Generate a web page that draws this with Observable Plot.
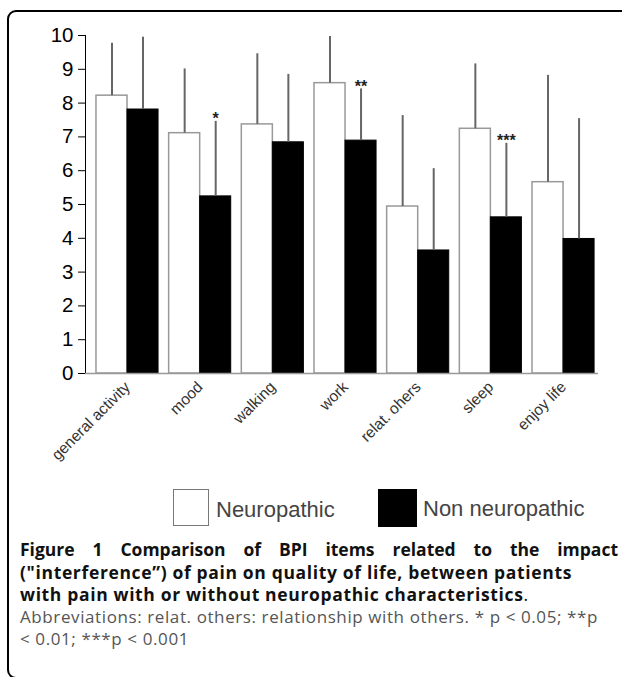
<!DOCTYPE html>
<html>
<head>
<meta charset="utf-8">
<script src="https://cdn.jsdelivr.net/npm/d3@7"></script>
<script src="https://cdn.jsdelivr.net/npm/@observablehq/plot@0.6"></script>
<style>
  html, body { margin: 0; padding: 0; background: #fff; }
  body { width: 622px; height: 677px; position: relative; overflow: hidden; }
  #frame { position: absolute; left: 7px; top: 10px; width: 700px; height: 669px;
           border: 2.5px solid #000; border-radius: 9px; box-sizing: border-box; }
  #chart { position: absolute; left: 0; top: 0; }
  #chart svg g[aria-label="y-axis"] line,
  #chart svg g[aria-label="y-axis"] path { stroke: #999; stroke-width: 1.3px; }
  #chart svg g[aria-label="y-axis"] text { fill: #333; }
  .leg-box { position: absolute; box-sizing: border-box; }
  .leg-txt { position: absolute; font-family: "Liberation Sans", Arial, sans-serif;
             font-size: 22px; line-height: 25px; color: #444; white-space: nowrap; }
  #caption { position: absolute; left: 20px; top: 538px; width: 598px;
             font-family: "Open Sans", sans-serif; line-height: 22.5px; }
  #caption .l1 { font-weight: bold; font-size: 17.5px; color: #111; text-align: justify; text-align-last: justify; }
  #caption .lb { font-weight: bold; font-size: 17.5px; letter-spacing: 0.65px; color: #111; white-space: nowrap; }
  #caption .ab { font-size: 17px; letter-spacing: 0.6px; color: #555; white-space: nowrap; }
</style>
</head>
<body>
<div id="frame"></div>
<div id="chart"></div>
<div class="leg-box" style="left:173px; top:489px; width:36px; height:37px; border:1.5px solid #777; background:#fff;"></div>
<div class="leg-txt" style="left:216px; top:497px;">Neuropathic</div>
<div class="leg-box" style="left:378px; top:489px; width:39px; height:38px; background:#000;"></div>
<div class="leg-txt" style="left:423px; top:496px;">Non neuropathic</div>
<div id="caption">
  <div class="l1">Figure 1 Comparison of BPI items related to the impact</div>
  <div class="lb">("interference”) of pain on quality of life, between patients</div>
  <div class="lb">with pain with or without neuropathic characteristics<span style="font-weight:normal">.</span></div>
  <div class="ab">Abbreviations: relat. others: relationship with others. * p &lt; 0.05; **p</div>
  <div class="ab">&lt; 0.01; ***p &lt; 0.001</div>
</div>
<script>
// ---- data ----
const categories = ["general activity", "mood", "walking", "work", "relat. ohers", "sleep", "enjoy life"];
const seriesNames = ["Neuropathic", "Non neuropathic"];
const neuroMean = [8.22, 7.11, 7.37, 8.59, 4.94, 7.24, 5.66];
const neuroSD   = [1.55, 1.90, 2.09, 1.38, 2.69, 1.92, 3.16];
const nonMean   = [7.81, 5.24, 6.84, 6.89, 3.64, 4.62, 3.98];
const nonSD     = [2.14, 2.22, 2.01, 1.53, 2.42, 2.19, 3.56];
const signif    = ["", "*", "", "**", "", "***", ""];
const yTicks    = [0, 1, 2, 3, 4, 5, 6, 7, 8, 9, 10];

// ---- table built from the arrays ----
const half = 0.427; // bar width in category units
const rows = [];
categories.forEach((c, i) => {
  rows.push({cat: c, i, series: seriesNames[0], mean: neuroMean[i], sd: neuroSD[i], sig: ""});
  rows.push({cat: c, i, series: seriesNames[1], mean: nonMean[i], sd: nonSD[i], sig: signif[i]});
});
const left  = d => d.series === seriesNames[0] ? d.i - half : d.i;
const right = d => d.series === seriesNames[0] ? d.i : d.i + half;
const mid   = d => (left(d) + right(d)) / 2;
const neuroRows = rows.filter(d => d.series === seriesNames[0]);
const nonRows   = rows.filter(d => d.series === seriesNames[1]);

const plot = Plot.plot({
  width: 622,
  height: 480,
  marginLeft: 85,
  marginRight: 24,
  marginTop: 35,
  marginBottom: 107,
  style: {fontFamily: "'Liberation Sans', Arial, sans-serif", fontSize: "20.5px", background: "transparent"},
  x: {domain: [-0.578, 6.481], axis: null},
  y: {domain: [0, 10], ticks: yTicks, tickSize: 7, tickPadding: 5, line: true, label: null},
  marks: [
    Plot.rectY(neuroRows, {x1: left, x2: right, y: "mean", fill: "#fff", stroke: "#999", strokeWidth: 1.5}),
    Plot.rectY(nonRows, {x1: left, x2: right, y: "mean", fill: "#000", stroke: "#000", strokeWidth: 1}),
    Plot.ruleX(rows, {x: mid, y1: "mean", y2: d => d.mean + d.sd, stroke: "#666", strokeWidth: 2}),
    Plot.ruleY([0], {stroke: "#999", strokeWidth: 1.3}),
    Plot.text(nonRows.filter(d => d.sig), {x: mid, y: d => d.mean + d.sd, text: "sig",
      lineAnchor: "bottom", dy: 3, fontSize: 16, fontWeight: "bold", fill: "#222"}),
    Plot.text(categories, {x: (d, i) => i, y: () => 0, text: d => d, rotate: -45,
      textAnchor: "end", lineAnchor: "middle", dx: 0, dy: 11, fontSize: 15.5, fill: "#333"})
  ]
});
document.getElementById("chart").appendChild(plot);
</script>
</body>
</html>
